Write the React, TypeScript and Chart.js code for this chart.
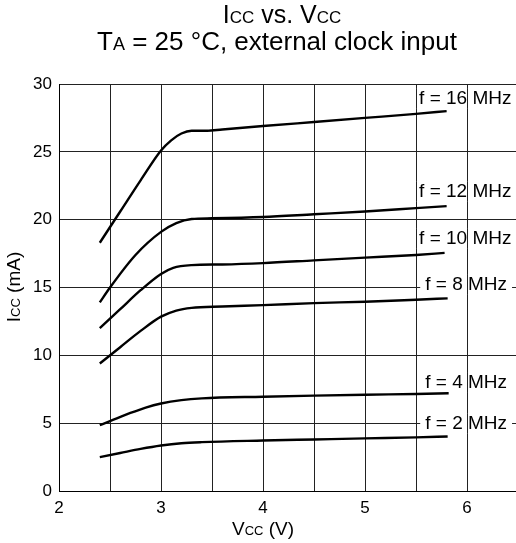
import React, { useEffect, useRef } from "react";
import { Chart, registerables } from "chart.js";

Chart.register(...registerables);

const FONT = "'Liberation Sans', Arial, Helvetica, sans-serif";

// Supply voltage (V) and supply current (mA) per clock frequency
const vcc16 = [2.4, 2.6, 2.8, 3.0, 3.1, 3.2, 3.3, 3.45, 3.6, 4.0, 4.5, 5.0, 5.5, 5.8];
const icc16 = [18.3, 20.6, 22.9, 25.1, 25.85, 26.35, 26.55, 26.55, 26.65, 26.9, 27.2, 27.5, 27.8, 28.0];

const vcc12 = [2.4, 2.5, 2.75, 3.0, 3.15, 3.3, 3.5, 4.0, 4.5, 5.0, 5.5, 5.8];
const icc12 = [13.9, 15.0, 17.4, 19.1, 19.75, 20.05, 20.1, 20.2, 20.4, 20.6, 20.85, 21.0];

const vcc10 = [2.4, 2.6, 2.8, 3.0, 3.12, 3.3, 3.6, 4.0, 4.5, 5.0, 5.5, 5.78];
const icc10 = [12.0, 13.4, 14.8, 16.0, 16.45, 16.65, 16.7, 16.8, 17.0, 17.2, 17.4, 17.55];

const vcc8 = [2.4, 2.6, 2.8, 3.0, 3.15, 3.3, 3.6, 4.0, 4.5, 5.0, 5.5, 5.81];
const icc8 = [9.4, 10.6, 11.8, 12.85, 13.3, 13.5, 13.6, 13.7, 13.85, 13.95, 14.1, 14.2];

const vcc4 = [2.4, 2.5, 2.7, 2.85, 3.0, 3.2, 3.4, 4.0, 4.5, 5.0, 5.5, 5.82];
const icc4 = [4.85, 5.15, 5.75, 6.15, 6.45, 6.7, 6.83, 6.95, 7.03, 7.1, 7.15, 7.2];

const vcc2 = [2.4, 2.6, 2.8, 3.0, 3.2, 3.4, 4.0, 4.5, 5.0, 5.5, 5.81];
const icc2 = [2.5, 2.8, 3.1, 3.35, 3.52, 3.6, 3.72, 3.8, 3.88, 3.95, 4.02];

const seriesV = [vcc16, vcc12, vcc10, vcc8, vcc4, vcc2];
const seriesI = [icc16, icc12, icc10, icc8, icc4, icc2];

// Curve labels and where they sit (in data units)
const curveLabels = ["f = 16 MHz", "f = 12 MHz", "f = 10 MHz", "f = 8 MHz", "f = 4 MHz", "f = 2 MHz"];
const labelV = [5.53, 5.53, 5.53, 5.59, 5.59, 5.59];
const labelI = [28.96, 22.1, 18.64, 15.25, 8.03, 5.0];

// Axes
const xMin = 2;
const xMax = 6.48;
const xGridStep = 0.5;
const xTickLabels = [2, 3, 4, 5, 6];
const yMin = 0;
const yMax = 30;
const yTickLabels = [0, 5, 10, 15, 20, 25, 30];

type Part = [string, boolean?];
const titleLine1: Part[] = [["I"], ["CC", true], [" vs. V"], ["CC", true]];
const titleLine2: Part[] = [["T"], ["A", true], [" = 25 °C, external clock input"]];
const yTitle: Part[] = [["I"], ["CC", true], [" (mA)"]];
const xTitle: Part[] = [["V"], ["CC", true], [" (V)"]];

const GRID = "#222";

function drawRich(ctx: CanvasRenderingContext2D, parts: Part[], cx: number, cy: number, size: number) {
  const small = Math.round(size * 0.68);
  let total = 0;
  const widths = parts.map(([t, s]) => {
    ctx.font = `${s ? small : size}px ${FONT}`;
    const w = ctx.measureText(t).width;
    total += w;
    return w;
  });
  let x = cx - total / 2;
  ctx.textBaseline = "alphabetic";
  ctx.textAlign = "left";
  ctx.fillStyle = "#000";
  const baseline = cy + size * 0.36;
  parts.forEach(([t, s], i) => {
    ctx.font = `${s ? small : size}px ${FONT}`;
    ctx.fillText(t, x, baseline);
    x += widths[i];
  });
}

const overlayPlugin = {
  id: "overlay",
  beforeDatasetsDraw(chart: any) {
    const ctx: CanvasRenderingContext2D = chart.ctx;
    const xs = chart.scales.x;
    const ys = chart.scales.y;
    const size = 19;
    ctx.save();
    curveLabels.forEach((lab, i) => {
      const px = xs.getPixelForValue(labelV[i]);
      const py = ys.getPixelForValue(labelI[i]);
      ctx.font = `${size}px ${FONT}`;
      const w = ctx.measureText(lab).width;
      const x0 = px - 5;
      const x1 = px + w + 5;
      ctx.fillStyle = "#fff";
      ctx.fillRect(x0, py - 10, x1 - x0, 20);
      // vertical grid lines stay visible through the label box
      ctx.strokeStyle = GRID;
      ctx.lineWidth = 1;
      for (let v = xMin; v <= xMax + 1e-9; v += xGridStep) {
        const gx = Math.round(xs.getPixelForValue(v)) + 0.5;
        if (gx > x0 && gx < x1) {
          ctx.beginPath();
          ctx.moveTo(gx, py - 10);
          ctx.lineTo(gx, py + 10);
          ctx.stroke();
        }
      }
      ctx.fillStyle = "#000";
      ctx.textBaseline = "middle";
      ctx.textAlign = "left";
      ctx.fillText(lab, px, py + 1);
    });
    ctx.restore();
  },
  afterDraw(chart: any) {
    const ctx: CanvasRenderingContext2D = chart.ctx;
    ctx.save();
    drawRich(ctx, titleLine1, 282, 14, 25);
    drawRich(ctx, titleLine2, 277, 41, 26);
    drawRich(ctx, xTitle, 263, 528, 19);
    ctx.translate(13, 287);
    ctx.rotate(-Math.PI / 2);
    drawRich(ctx, yTitle, 0, 0, 19);
    ctx.restore();
  },
};

export default function App() {
  const ref = useRef<HTMLCanvasElement | null>(null);

  useEffect(() => {
    if (!ref.current) return;
    const datasets = seriesV.map((vs, i) => ({
      label: curveLabels[i],
      data: vs.map((v, j) => ({ x: v, y: seriesI[i][j] })),
      borderColor: "#000",
      backgroundColor: "#000",
      borderWidth: 2.4,
      pointRadius: 0,
      cubicInterpolationMode: "monotone" as const,
      fill: false,
    }));

    const chart = new Chart(ref.current, {
      type: "line",
      data: { datasets },
      options: {
        animation: false,
        responsive: false,
        devicePixelRatio: 1,
        layout: { padding: { top: 84, left: 0, right: 0, bottom: 0 } },
        plugins: {
          legend: { display: false },
          title: { display: false },
          tooltip: { enabled: false },
        },
        scales: {
          x: {
            type: "linear",
            min: xMin,
            max: xMax,
            afterFit: (s: any) => {
              s.height = 52;
            },
            afterBuildTicks: (s: any) => {
              const t = [];
              for (let v = xMin; v <= xMax + 1e-9; v += xGridStep) t.push({ value: Math.round(v * 10) / 10 });
              s.ticks = t;
            },
            grid: { color: GRID, lineWidth: 1, drawTicks: false },
            border: { display: true, color: "#000", width: 1 },
            ticks: {
              padding: 7,
              maxRotation: 0,
              autoSkip: false,
              color: "#000",
              font: { family: FONT, size: 17 },
              callback: (v: any) => (xTickLabels.includes(Number(v)) ? String(v) : ""),
            },
          },
          y: {
            type: "linear",
            min: yMin,
            max: yMax,
            afterFit: (s: any) => {
              s.width = 59;
            },
            afterBuildTicks: (s: any) => {
              s.ticks = yTickLabels.map((v) => ({ value: v }));
            },
            grid: { color: GRID, lineWidth: 1, drawTicks: false },
            border: { display: true, color: "#000", width: 1 },
            ticks: {
              padding: 7,
              color: "#000",
              font: { family: FONT, size: 17 },
              callback: (v: any) => String(v),
            },
          },
        },
      },
      plugins: [overlayPlugin],
    });
    return () => chart.destroy();
  }, []);

  return (
    <div style={{ position: "fixed", left: 0, top: 0, width: 516, height: 543, background: "#fff" }}>
      <canvas ref={ref} width={516} height={543} style={{ display: "block" }} />
    </div>
  );
}
